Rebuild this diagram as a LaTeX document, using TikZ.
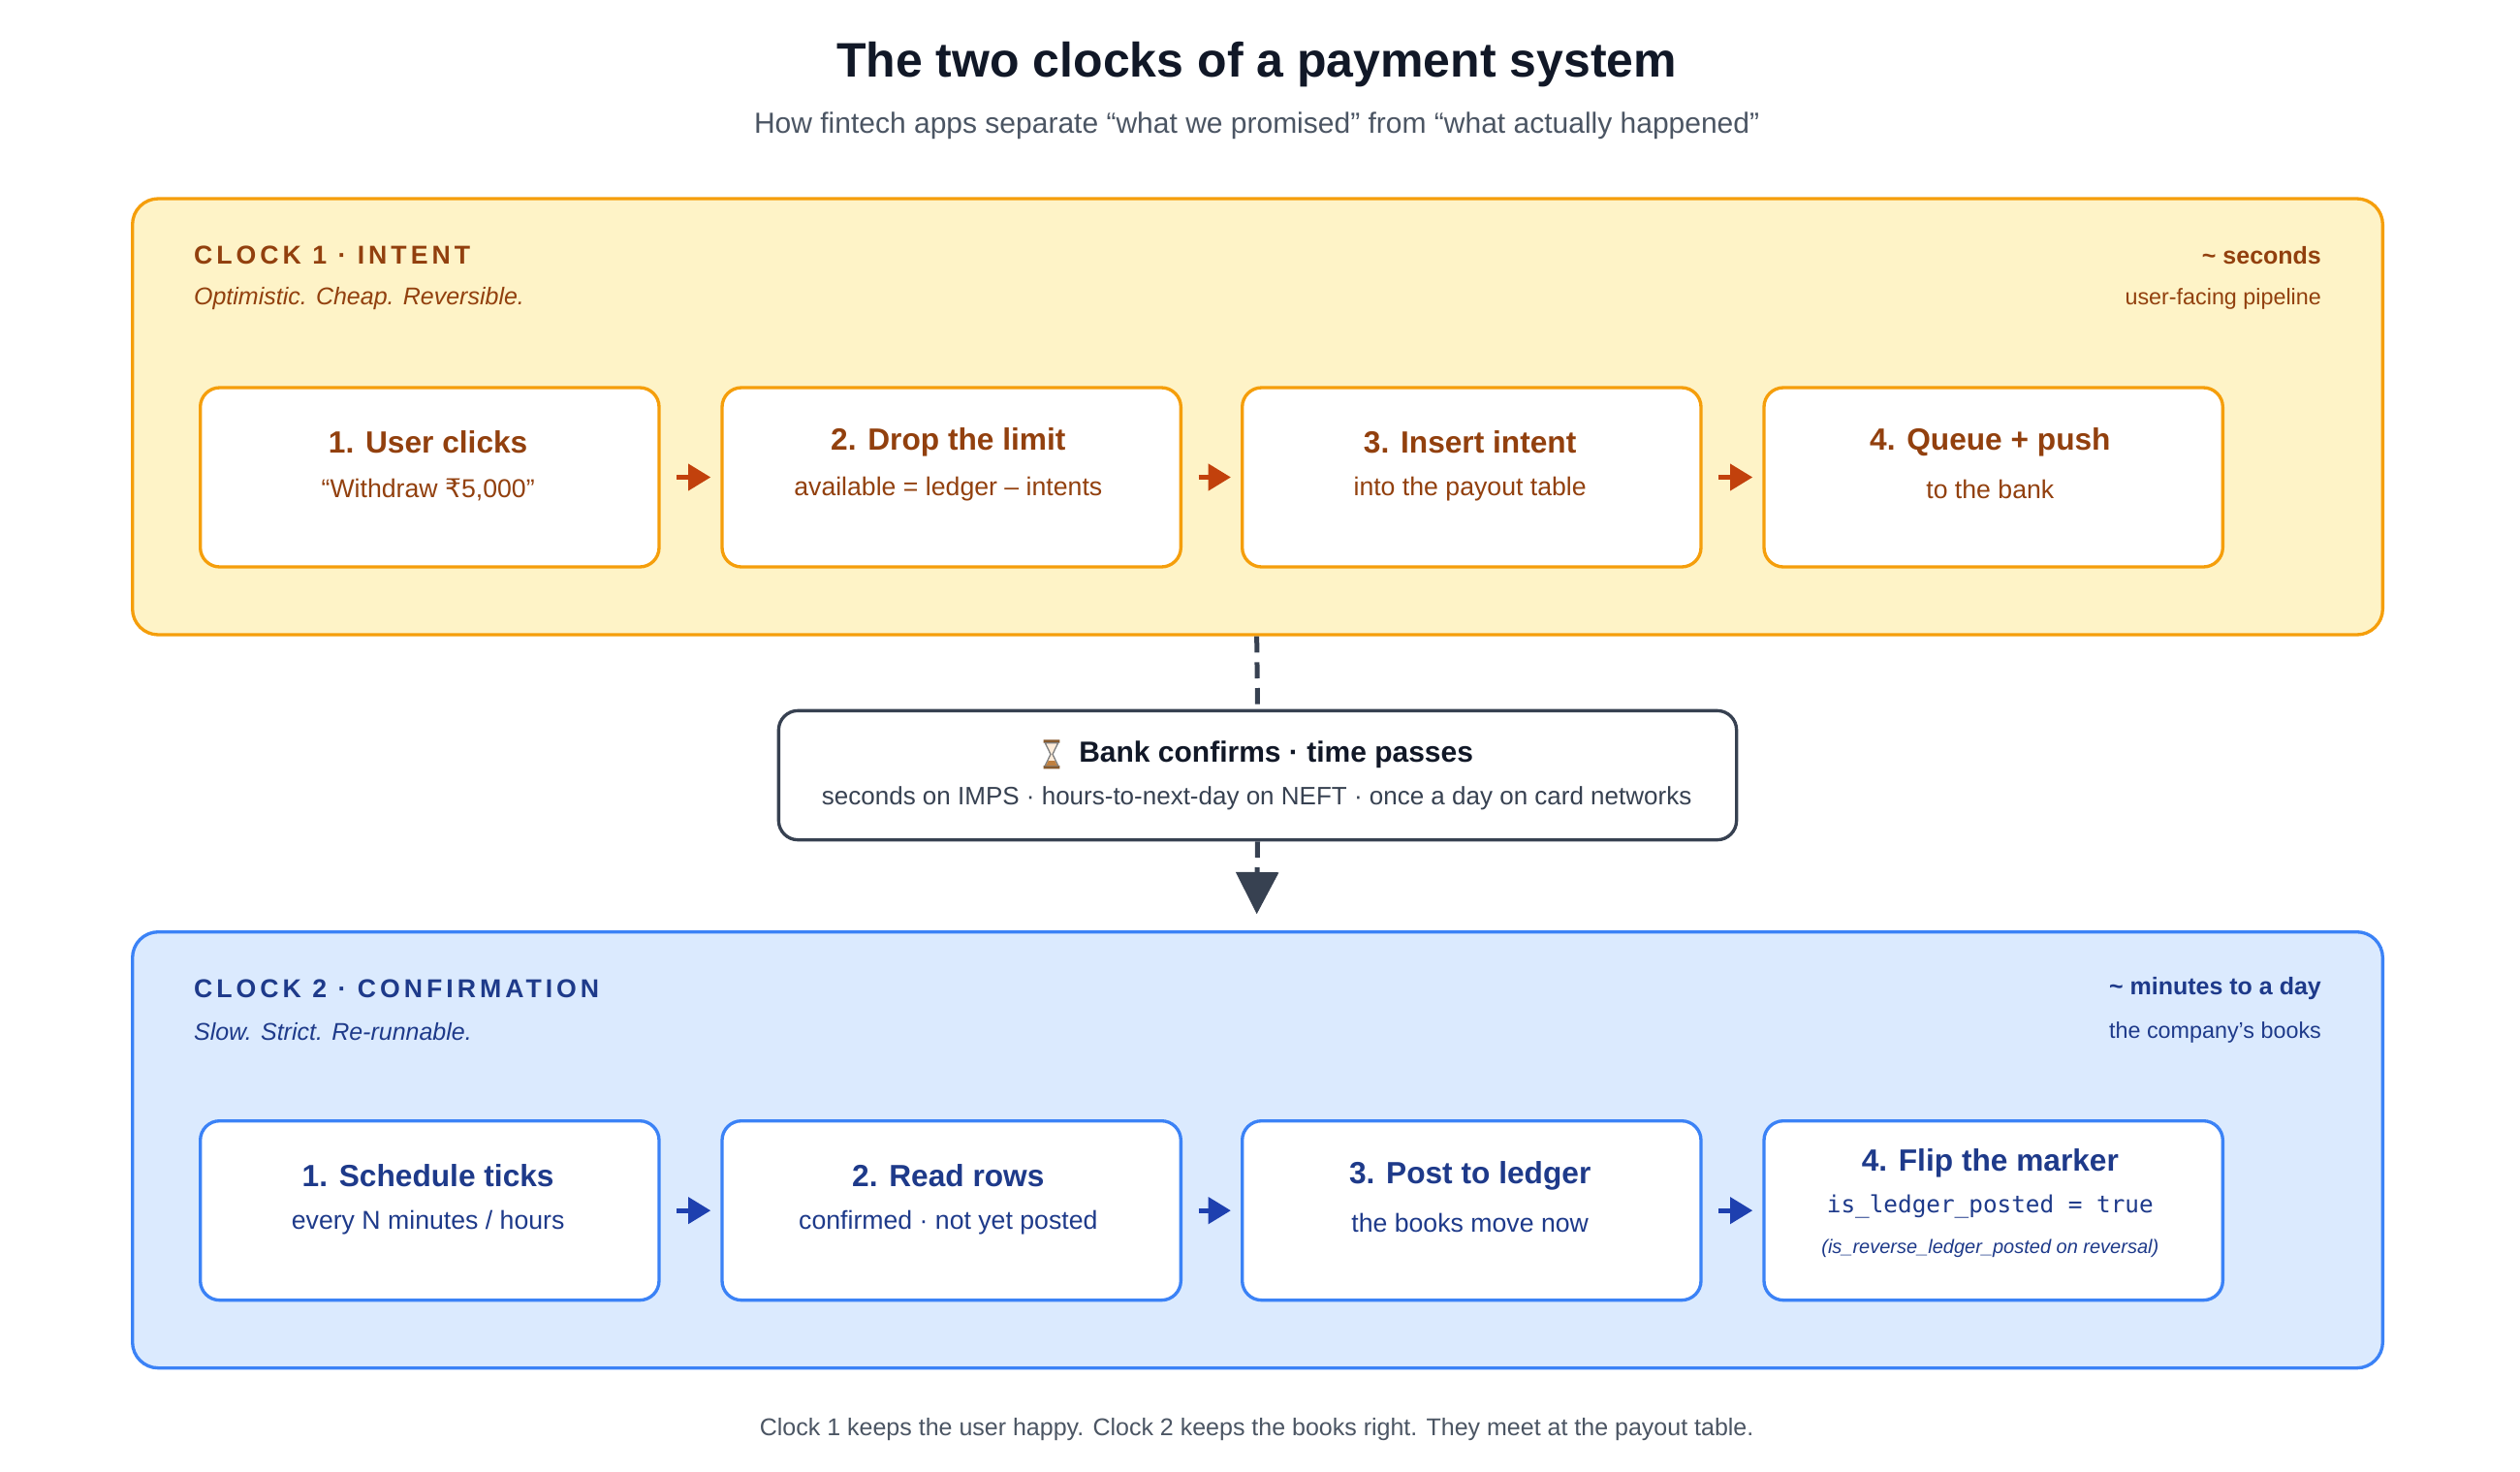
\documentclass[tikz,border=0pt]{standalone}
\usepackage{fontspec}
\setmainfont{Liberation Sans}
\setmonofont{DejaVu Sans Mono}
\newfontfamily\dv{DejaVu Sans}
\usetikzlibrary{arrows.meta}
\definecolor{ybg}{HTML}{FEF3C7}\definecolor{yln}{HTML}{F59E0B}\definecolor{ytx}{HTML}{92400E}\definecolor{yar}{HTML}{C2410C}
\definecolor{bbg}{HTML}{DBEAFE}\definecolor{bln}{HTML}{3B82F6}\definecolor{btx}{HTML}{1E3A8A}\definecolor{bar}{HTML}{1E40AF}
\definecolor{gdk}{HTML}{111827}\definecolor{gmd}{HTML}{4B5563}\definecolor{gln}{HTML}{374151}
\begin{document}
\begin{tikzpicture}[x=0.5pt,y=-0.5pt,
 panel/.style={rounded corners=8pt,line width=1pt},
 stepbox/.style={draw,fill=white,rounded corners=6pt,line width=1pt,minimum width=142pt,minimum height=55.5pt,anchor=north west},
 ttl/.style={font=\bfseries\fontsize{9.5}{11}\selectfont},
 sub/.style={font=\fontsize{8}{10}\selectfont},
 lab/.style={font=\bfseries\fontsize{8}{10}\selectfont\addfontfeatures{LetterSpace=15},anchor=west},
 arr/.style={line width=1.6pt,-{Triangle[length=7pt,width=8pt]}}]
\useasboundingbox (0,0) rectangle (1560,911);
\node[font=\bfseries\fontsize{15}{18}\selectfont,text=gdk] (t) at (778,40) {The two clocks of a payment system};
\node[font=\fontsize{9}{11}\selectfont,text=gmd] (st) at (778,78) {How fintech apps separate “what we promised” from “what actually happened”};
% clock 1
\draw[panel,fill=ybg,draw=yln] (82,123) rectangle (1475,393);
\node[lab,text=ytx] (l1) at (113,158) {CLOCK 1 · INTENT};
\node[font=\itshape\fontsize{7.5}{9}\selectfont,text=ytx,anchor=west] (d1) at (113,185) {Optimistic. Cheap. Reversible.};
\node[font=\bfseries\fontsize{7.5}{9}\selectfont,text=ytx,anchor=east] (r1) at (1444,158) {\textasciitilde{} seconds};
\node[font=\fontsize{7}{9}\selectfont,text=ytx,anchor=east] (s1) at (1444,185) {user-facing pipeline};
\begin{scope}[every node/.append style={text=ytx}]
\node[stepbox,draw=yln] (a1) at (123,239) {}; \node[ttl] at (265,274) {1. User clicks}; \node[sub] at (265,303) {“Withdraw {\dv ₹}5,000”};
\node[stepbox,draw=yln] (a2) at (446,239) {}; \node[ttl] at (587,274) {2. Drop the limit}; \node[sub] at (587,303) {available = ledger – intents};
\node[stepbox,draw=yln] (a3) at (768,239) {}; \node[ttl] at (910,274) {3. Insert intent}; \node[sub] at (910,303) {into the payout table};
\node[stepbox,draw=yln] (a4) at (1091,239) {}; \node[ttl] at (1232,274) {4. Queue + push}; \node[sub] at (1232,303) {to the bank};
\end{scope}
\foreach \i/\j in {a1/a2,a2/a3,a3/a4}{\draw[arr,draw=yar,fill=yar,shorten <=5pt,shorten >=3pt] (\i.east) -- (\j.west);}
% bank
\node[draw=gln,fill=white,rounded corners=6pt,line width=1pt,minimum width=296.5pt,minimum height=40pt] (bk) at (778.5,480) {};
\node[font=\bfseries\fontsize{9}{11}\selectfont,text=gdk] (bt) at (790,467) {Bank confirms · time passes};
\begin{scope}[shift={(651,467)}]
\fill[brown!70!black] (-5,-9) rectangle (5,-7) (-5,7) rectangle (5,9);
\draw[gray,fill=orange!15] (-4,-7) -- (4,-7) -- (0.6,0) -- (4,7) -- (-4,7) -- (-0.6,0) -- cycle;
\fill[brown] (-2,4) -- (2,4) -- (3.5,7) -- (-3.5,7) -- cycle;
\end{scope}
\node[font=\fontsize{7.8}{10}\selectfont,text=gln] (bs) at (778,494) {seconds on IMPS · hours-to-next-day on NEFT · once a day on card networks};
\coordinate (c1b) at (778,394);
\coordinate (c2t) at (778,566);
\draw[gln,line width=1.5pt,dash pattern=on 5pt off 3pt] (c1b) -- (bk.north);
\draw[gln,line width=1.5pt,dash pattern=on 5pt off 3pt,-{Triangle[length=13pt,width=13pt]}] (bk.south) -- (c2t);
% clock 2
\draw[panel,fill=bbg,draw=bln] (82,577) rectangle (1475,847);
\node[lab,text=btx] (l2) at (113,612) {CLOCK 2 · CONFIRMATION};
\node[font=\itshape\fontsize{7.5}{9}\selectfont,text=btx,anchor=west] (d2) at (113,639) {Slow. Strict. Re-runnable.};
\node[font=\bfseries\fontsize{7.5}{9}\selectfont,text=btx,anchor=east] (r2) at (1444,612) {\textasciitilde{} minutes to a day};
\node[font=\fontsize{7}{9}\selectfont,text=btx,anchor=east] (s2) at (1444,639) {the company’s books};
\begin{scope}[every node/.append style={text=btx}]
\node[stepbox,draw=bln] (b1) at (123,693) {}; \node[ttl] at (265,728) {1. Schedule ticks}; \node[sub] at (265,757) {every N minutes / hours};
\node[stepbox,draw=bln] (b2) at (446,693) {}; \node[ttl] at (587,728) {2. Read rows}; \node[sub] at (587,757) {confirmed · not yet posted};
\node[stepbox,draw=bln] (b3) at (768,693) {}; \node[ttl] at (910,728) {3. Post to ledger}; \node[sub] at (910,757) {the books move now};
\node[stepbox,draw=bln] (b4) at (1091,693) {}; \node[ttl] at (1232,720) {4. Flip the marker}; \node[font=\ttfamily\fontsize{7.3}{9}\selectfont] at (1232,747) {is\_ledger\_posted = true};
\node[font=\itshape\fontsize{6}{8}\selectfont] at (1232,773) {(is\_reverse\_ledger\_posted on reversal)};
\end{scope}
\foreach \i/\j in {b1/b2,b2/b3,b3/b4}{\draw[arr,draw=bar,fill=bar,shorten <=5pt,shorten >=3pt] (\i.east) -- (\j.west);}
\node[font=\fontsize{7.5}{9}\selectfont,text=gmd] (ft) at (778,885) {Clock 1 keeps the user happy. Clock 2 keeps the books right. They meet at the payout table.};
\end{tikzpicture}
\end{document}
